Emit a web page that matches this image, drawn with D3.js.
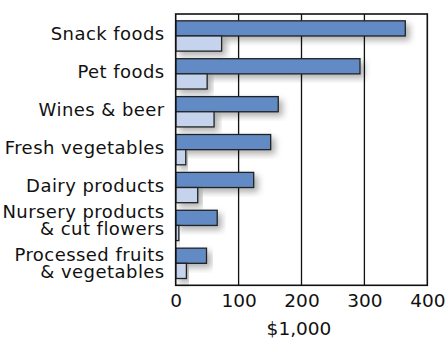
<!DOCTYPE html>
<html>
<head>
<meta charset="utf-8">
<script src="https://cdn.jsdelivr.net/npm/d3@7"></script>
<style>
  html, body { margin: 0; padding: 0; background: #fff; }
  svg { display: block; }
  text { font-family: "DejaVu Sans", sans-serif; fill: #111; }
</style>
</head>
<body>
<svg id="chart" width="446" height="339"></svg>
<script>
// Sales by product category, two series, in $1,000
const categories = [
  ["Snack foods"],
  ["Pet foods"],
  ["Wines & beer"],
  ["Fresh vegetables"],
  ["Dairy products"],
  ["Nursery products", "& cut flowers"],
  ["Processed fruits", "& vegetables"]
];
const seriesA = [365, 293, 163, 151, 124, 66, 49];
const seriesB = [73, 50, 61, 16, 35, 5, 17];
const xTicks = [0, 100, 200, 300, 400];
const xTitle = "$1,000";

const W = 446, H = 339;
const margin = { top: 14, right: 18.7, bottom: 53.7, left: 175.7 };
const iw = W - margin.left - margin.right;
const ih = H - margin.top - margin.bottom;

const svg = d3.select("#chart");

// soft shadow under the bars
const defs = svg.append("defs");
const f = defs.append("filter").attr("id", "shadow")
  .attr("x", "-10%").attr("y", "-40%").attr("width", "130%").attr("height", "200%");
f.append("feDropShadow").attr("dx", 4).attr("dy", 4)
  .attr("stdDeviation", 3.2).attr("flood-color", "#000").attr("flood-opacity", 0.3);

const g = svg.append("g").attr("transform", `translate(${margin.left},${margin.top})`);

const x = d3.scaleLinear().domain([0, 400]).range([0, iw]);
const y = d3.scaleBand().domain(d3.range(categories.length)).range([0, ih])
  .paddingInner(0.2).paddingOuter(0.18);
const sub = d3.scaleBand().domain([0, 1]).range([0, y.bandwidth()]);

// vertical grid lines
g.selectAll("line.grid").data(xTicks.slice(1, -1)).join("line")
  .attr("class", "grid")
  .attr("x1", d => x(d)).attr("x2", d => x(d))
  .attr("y1", 0).attr("y2", ih)
  .attr("stroke", "#111").attr("stroke-width", 1.3);

// bars
const groups = g.selectAll("g.cat").data(categories).join("g")
  .attr("class", "cat")
  .attr("transform", (d, i) => `translate(0,${y(i)})`);

const series = [
  { values: seriesA, fill: "#628bc6" },
  { values: seriesB, fill: "#c5d3ed" }
];
series.forEach((s, k) => {
  groups.append("rect")
    .attr("x", x(0))
    .attr("y", sub(k))
    .attr("width", (d, i) => x(s.values[i]) - x(0))
    .attr("height", sub.bandwidth())
    .attr("fill", s.fill)
    .attr("stroke", "#222")
    .attr("stroke-width", 1.3)
    .attr("filter", "url(#shadow)");
});

// plot frame
g.append("rect")
  .attr("x", 0).attr("y", 0).attr("width", iw).attr("height", ih)
  .attr("fill", "none").attr("stroke", "#111").attr("stroke-width", 1.6);

// category labels; the two wrapped labels sit a little apart from each other
const lineH = 17;
groups.append("text")
  .attr("text-anchor", "end")
  .attr("font-size", 18)
  .attr("letter-spacing", 0.45)
  .each(function(d, i) {
    const t = d3.select(this);
    const c = y.bandwidth() / 2;
    let first;
    if (d.length === 1) first = c + 4;
    else first = i === categories.length - 1 ? c - 2 : c - 7;
    d.forEach((line, j) => {
      t.append("tspan").attr("x", -11).attr("y", first + j * lineH).text(line);
    });
  });

// x axis
const xAxis = d3.axisBottom(x).tickValues(xTicks).tickSize(0).tickPadding(0);
const ax = g.append("g").attr("transform", `translate(0,${ih})`).call(xAxis);
ax.select(".domain").remove();
ax.selectAll("text")
  .attr("font-size", 18.5)
  .attr("dy", null)
  .attr("y", 21.5)
  .style("font-family", "DejaVu Sans, sans-serif")
  .attr("fill", "#111");

g.append("text")
  .attr("x", iw / 2 - 2.5)
  .attr("y", ih + 49.5)
  .attr("text-anchor", "middle")
  .attr("font-size", 18.5)
  .text(xTitle);
</script>
</body>
</html>
